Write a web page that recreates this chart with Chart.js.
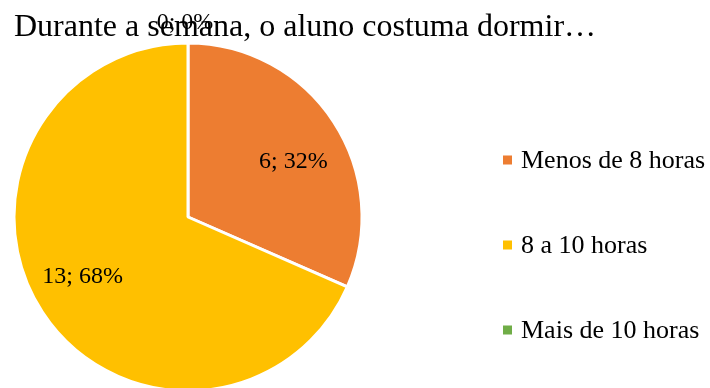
<!DOCTYPE html>
<html>
<head>
<meta charset="utf-8">
<script src="https://cdn.jsdelivr.net/npm/chart.js@4/dist/chart.umd.min.js"></script>
<style>
  html, body { margin: 0; padding: 0; background: #fff; }
  #wrap { width: 710px; height: 388px; position: relative; }
</style>
</head>
<body>
<div id="wrap"><canvas id="sleepChart"></canvas></div>
<script>
const chartTitle = 'Durante a semana, o aluno costuma dormir…';
const categories = ['Menos de 8 horas', '8 a 10 horas', 'Mais de 10 horas'];
const counts = [6, 13, 0];
const sliceColors = ['#ED7D31', '#FFC000', '#70AD47'];

const serif = '"Liberation Serif", "Times New Roman", serif';

// title, data labels and legend drawn by hand to match the office-style layout
const decorPlugin = {
    id: 'decor',
    afterDraw(chart) {
        const ctx = chart.ctx;
        const total = counts.reduce((a, b) => a + b, 0);
        ctx.save();
        ctx.fillStyle = '#000';

        // title
        ctx.font = '32px ' + serif;
        ctx.textAlign = 'left';
        ctx.textBaseline = 'alphabetic';
        ctx.fillText(chartTitle, 14, 36);

        // data labels
        ctx.font = '24px ' + serif;
        ctx.textAlign = 'center';
        ctx.textBaseline = 'middle';
        const meta = chart.getDatasetMeta(0);
        meta.data.forEach((arc, i) => {
            const pct = Math.round(counts[i] / total * 100);
            const text = counts[i] + '; ' + pct + '%';
            const mid = (arc.startAngle + arc.endAngle) / 2;
            let x, y;
            if (counts[i] === 0) {
                x = arc.x + Math.cos(mid) * (arc.outerRadius + 20) - 3;
                y = arc.y + Math.sin(mid) * (arc.outerRadius + 20);
            } else {
                const a = mid + 4.5 * Math.PI / 180;
                x = arc.x + Math.cos(a) * arc.outerRadius * 0.69;
                y = arc.y + Math.sin(a) * arc.outerRadius * 0.69 + 2;
            }
            ctx.fillText(text, x, y);
        });

        // legend
        ctx.font = '26px ' + serif;
        ctx.textAlign = 'left';
        ctx.textBaseline = 'alphabetic';
        const rowY = [160, 245, 330];
        categories.forEach((name, i) => {
            ctx.fillStyle = sliceColors[i];
            ctx.fillRect(503, rowY[i] - 4.5, 9, 9);
            ctx.fillStyle = '#000';
            ctx.fillText(name, 521, rowY[i] + 7.5);
        });
        ctx.restore();
    }
};

new Chart(document.getElementById('sleepChart').getContext('2d'), {
    type: 'pie',
    data: {
        labels: categories,
        datasets: [{
            data: counts,
            backgroundColor: sliceColors,
            borderColor: '#FFFFFF',
            borderWidth: 3,
            radius: 174
        }]
    },
    options: {
        responsive: true,
        maintainAspectRatio: false,
        animation: false,
        layout: { padding: { left: 14, right: 348, top: 46, bottom: 0 } },
        plugins: {
            legend: { display: false },
            tooltip: { enabled: false },
            title: { display: false }
        }
    },
    plugins: [decorPlugin]
});
</script>
</body>
</html>
